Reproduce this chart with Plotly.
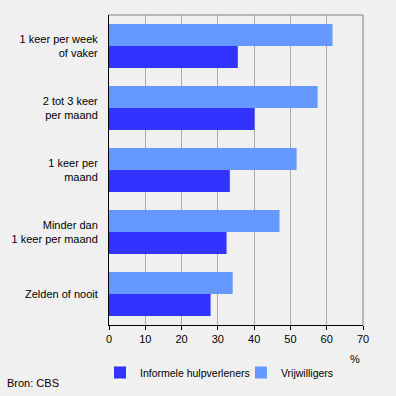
import plotly.graph_objects as go

categories = ["1 keer per week<br>of vaker", "2 tot 3 keer<br>per maand", "1 keer per<br>maand",
              "Minder dan<br>1 keer per maand", "Zelden of nooit"]
informele = [35.5, 40.1, 33.3, 32.4, 28.0]
vrijwilligers = [61.6, 57.5, 51.7, 47.0, 34.1]
x_ticks = [0, 10, 20, 30, 40, 50, 60, 70]

fig = go.Figure()
fig.add_trace(go.Bar(y=categories, x=informele, orientation="h", name="Informele hulpverleners",
                     marker=dict(color="#3333ff", line=dict(width=0))))
fig.add_trace(go.Bar(y=categories, x=vrijwilligers, orientation="h", name="Vrijwilligers",
                     marker=dict(color="#6699ff", line=dict(width=0))))

L, R, T, B = 109, 33, 15, 71
pw, ph = 396 - L - R, 396 - T - B
def px2paper(px, py):
    return (px - L) / pw, 1 - (py - T) / ph

lx, ly = px2paper(100, 358)
fig.update_layout(
    width=396, height=396,
    paper_bgcolor="#f0f0f0", plot_bgcolor="#f0f0f0",
    margin=dict(l=L, r=R, t=T, b=B, autoexpand=False),
    barmode="group", bargap=0.29, bargroupgap=0,
    font=dict(family="Liberation Sans, Arial, sans-serif", size=11, color="#000000"),
    showlegend=True,
    legend=dict(orientation="h", xref="paper", yref="paper",
                x=lx, y=ly, xanchor="left", yanchor="top",
                bgcolor="rgba(0,0,0,0)", font=dict(size=10.5),
                itemwidth=30, entrywidth=96, entrywidthmode="pixels",
                tracegroupgap=0, traceorder="normal"),
    xaxis=dict(range=[0, 70], tickvals=x_ticks, showgrid=True, gridcolor="#aaaaaa", gridwidth=1,
               showline=True, linecolor="#000000", linewidth=1, ticks="outside", ticklen=4,
               tickcolor="#000000", zeroline=False, fixedrange=True, automargin=False),
    yaxis=dict(categoryorder="array", categoryarray=categories[::-1], showline=True,
               linecolor="#000000", linewidth=1, ticks="", ticklabelstandoff=8,
               fixedrange=True, automargin=False),
)
# gray frame on top and right of plot area
fig.add_shape(type="line", xref="paper", yref="paper", x0=0, x1=1, y0=1, y1=1,
              line=dict(color="#808080", width=1))
fig.add_shape(type="line", xref="paper", yref="paper", x0=1, x1=1, y0=0, y1=1,
              line=dict(color="#808080", width=1))

x, y = px2paper(355, 359)
fig.add_annotation(text="%", x=x, y=y, xref="paper", yref="paper", showarrow=False,
                   xanchor="center", yanchor="middle", font=dict(size=11))
x, y = px2paper(5, 383)
fig.add_annotation(text="Bron: CBS", x=x, y=y, xref="paper", yref="paper", showarrow=False,
                   xanchor="left", yanchor="middle", font=dict(size=11))
fig.write_html("out.html", post_script="document.body.style.margin='0';",
               config={"displayModeBar": False})
